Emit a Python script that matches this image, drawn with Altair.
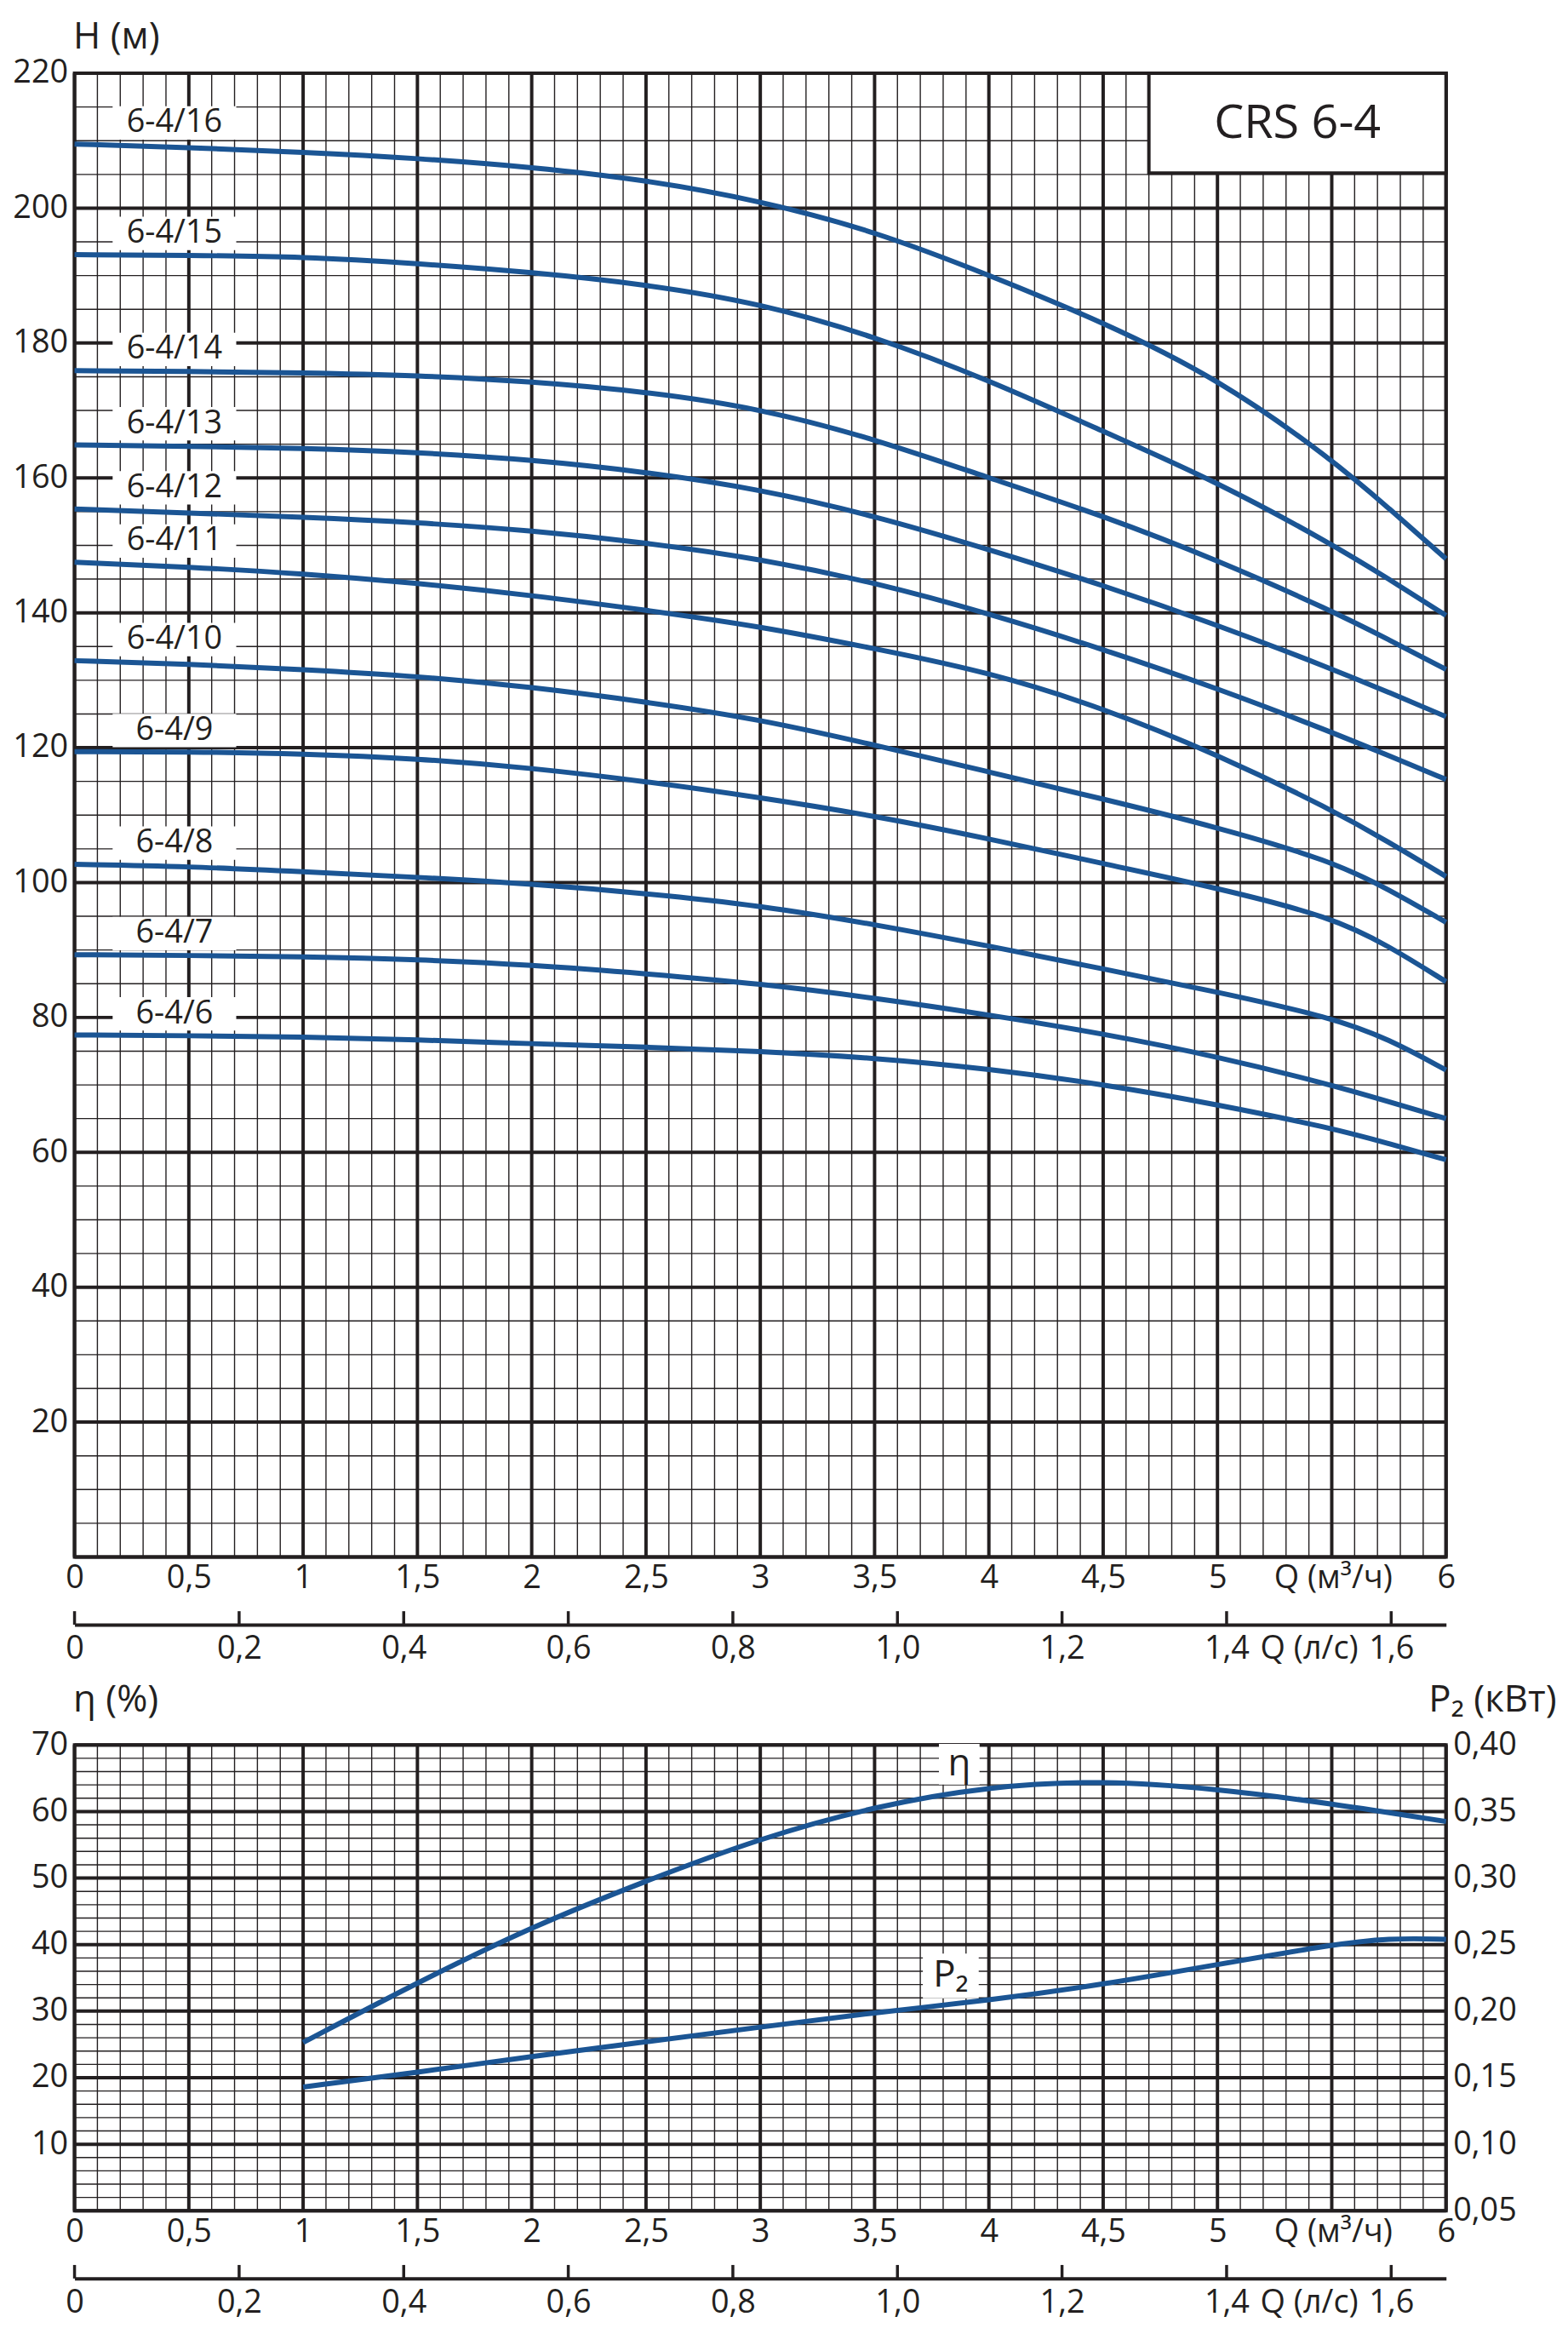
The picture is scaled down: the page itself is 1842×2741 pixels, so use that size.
import altair as alt
import pandas as pd

# ---------------- data ----------------
Q_M3H = [0, 0.5, 1, 1.5, 2, 2.5, 3, 3.5, 4, 4.5, 5, 5.5, 5.75, 6]

MODELS = ["6-4/16", "6-4/15", "6-4/14", "6-4/13", "6-4/12", "6-4/11",
          "6-4/10", "6-4/9", "6-4/8", "6-4/7", "6-4/6"]

H_6_4_16 = [209.5, 209.0, 208.3, 207.4, 206.1, 204.2, 201.1, 196.6, 190.1, 183.1, 174.8, 162.8, 155.5, 148.0]
H_6_4_15 = [193.1, 193.0, 192.8, 191.8, 190.5, 188.7, 185.9, 181.0, 174.5, 166.9, 159.4, 150.2, 145.0, 139.6]
H_6_4_14 = [175.9, 175.8, 175.6, 175.2, 174.3, 172.8, 170.3, 165.8, 160.0, 154.4, 147.8, 140.3, 136.0, 131.6]
H_6_4_13 = [164.9, 164.7, 164.4, 163.8, 162.7, 160.9, 158.3, 154.4, 149.4, 144.1, 138.2, 131.7, 128.2, 124.6]
H_6_4_12 = [155.4, 154.8, 154.2, 153.4, 152.2, 150.4, 148.0, 144.5, 139.9, 134.6, 128.8, 122.3, 118.8, 115.3]
H_6_4_11 = [147.5, 146.8, 145.8, 144.4, 142.6, 140.4, 138.0, 134.7, 131.2, 125.9, 119.0, 110.8, 106.0, 100.9]
H_6_4_10 = [132.9, 132.4, 131.6, 130.6, 129.0, 126.8, 124.2, 120.4, 116.4, 112.4, 108.2, 103.2, 99.0, 94.1]
H_6_4_9 = [119.4, 119.4, 119.1, 118.4, 117.0, 115.0, 112.6, 109.9, 106.5, 102.8, 99.2, 94.9, 90.6, 85.3]
H_6_4_8 = [102.7, 102.4, 101.6, 100.8, 99.8, 98.4, 96.6, 93.8, 90.6, 87.2, 83.8, 80.0, 76.8, 72.2]
H_6_4_7 = [89.3, 89.2, 89.0, 88.6, 87.8, 86.5, 85.0, 82.9, 80.4, 77.6, 74.2, 70.0, 67.5, 65.0]
H_6_4_6 = [77.4, 77.3, 77.1, 76.7, 76.1, 75.6, 75.0, 74.0, 72.4, 70.1, 67.1, 63.6, 61.3, 58.9]
H_SERIES = [H_6_4_16, H_6_4_15, H_6_4_14, H_6_4_13, H_6_4_12, H_6_4_11,
            H_6_4_10, H_6_4_9, H_6_4_8, H_6_4_7, H_6_4_6]

Q_ETA = [1, 1.5, 2, 2.5, 3, 3.5, 4, 4.5, 5, 5.5, 6]
ETA = [25.3, 34.3, 42.7, 49.6, 56.0, 60.8, 63.8, 64.7, 63.4, 61.2, 58.5]

Q_P2 = [1, 1.5, 2, 2.5, 3, 3.5, 4, 4.5, 5, 5.5, 5.75, 6]
P2 = [0.143, 0.154, 0.166, 0.177, 0.188, 0.199, 0.208, 0.220, 0.235, 0.250, 0.255, 0.254]

# axis ticks / grid values
Q_MAX = 6.0
LS_MAX = Q_MAX / 3.6
Q_LABELS = [0, 0.5, 1, 1.5, 2, 2.5, 3, 3.5, 4, 4.5, 5, 6]
Q_MAJOR = [0, 0.5, 1, 1.5, 2, 2.5, 3, 3.5, 4, 4.5, 5, 5.5, 6]
Q_MINOR = [round(i / 10, 1) for i in range(0, 61)]
H_LABELS = [20, 40, 60, 80, 100, 120, 140, 160, 180, 200, 220]
H_MAJOR = [0] + H_LABELS
H_MINOR = list(range(0, 221, 5))
ETA_LABELS = [10, 20, 30, 40, 50, 60, 70]
ETA_MAJOR = [0] + ETA_LABELS
ETA_MINOR = list(range(0, 71, 2))
P2_LABELS = [0.05, 0.10, 0.15, 0.20, 0.25, 0.30, 0.35, 0.40]
LS_TICKS = [0, 0.2, 0.4, 0.6, 0.8, 1.0, 1.2, 1.4, 1.6]

# title box "CRS 6-4" (in chart units)
CRS_TITLE = "CRS 6-4"
CRS_BOX = {"q0": 4.70, "q1": 6.0, "h0": 205.2, "h1": 220.0}

# ---------------- styling ----------------
W = 1620
H_TOP = 1752
H_BOT = 550
GAP = 222
INK = "#231f20"
BLUE = "#1b5594"
FONT = "Open Sans"
FS = 38
TFS = 44

curves = pd.DataFrame(
    [{"model": m, "Q": q, "H": h} for m, hs in zip(MODELS, H_SERIES) for q, h in zip(Q_M3H, hs)]
)
eta_df = pd.DataFrame({"Q": Q_ETA, "eta": ETA})
p2_df = pd.DataFrame({"Q": Q_P2, "P2": P2})

comma_g = "replace(format(datum.value, '~g'), '.', ',')"

ax_q = alt.Axis(values=Q_LABELS, labelExpr=comma_g, labelPadding=6,
                title="Q (м³/ч)", titleX=W * 5.505 / Q_MAX, titleY=6,
                titleBaseline="top", titleAlign="center", titleFontSize=FS)
sc_q = alt.Scale(domain=[0, Q_MAX], nice=False, zero=False)

ax_ls = alt.Axis(orient="bottom", offset=80, values=LS_TICKS,
                 labelExpr="datum.value == 0 ? '0' : replace(format(datum.value, '.1f'), '.', ',')",
                 labelPadding=10, domain=True, domainColor=INK, domainWidth=4,
                 title="Q (л/с)", titleX=W * 1.50 / LS_MAX, titleY=10,
                 titleBaseline="top", titleAlign="center", titleFontSize=FS)
sc_ls = alt.Scale(domain=[0, LS_MAX], nice=False, zero=False)

BOX_PATH = "M-1,-0.27L1,-0.27L1,0.27L-1,0.27Z"
INTERP = "basis"


def xq():
    return alt.X("Q:Q", scale=sc_q, axis=ax_q, title="Q (м³/ч)")


def grid_layers(y_field, minor_vals, major_vals, y_scale, y_axis):
    mv = alt.Chart(pd.DataFrame({"Q": Q_MINOR})).mark_rule(color=INK, strokeWidth=1.4).encode(x=xq())
    mh = alt.Chart(pd.DataFrame({y_field: minor_vals})).mark_rule(color=INK, strokeWidth=1.4).encode(
        y=alt.Y(f"{y_field}:Q", scale=y_scale, axis=y_axis))
    Mv = alt.Chart(pd.DataFrame({"Q": Q_MAJOR})).mark_rule(color=INK, strokeWidth=4).encode(x=xq())
    Mh = alt.Chart(pd.DataFrame({y_field: major_vals})).mark_rule(color=INK, strokeWidth=4).encode(
        y=alt.Y(f"{y_field}:Q", scale=y_scale, axis=y_axis))
    return [mv, mh, Mv, Mh]


def ls_ticks(h):
    return alt.Chart(pd.DataFrame({"Qls": LS_TICKS})).mark_rule(color=INK, strokeWidth=3.5).encode(
        x=alt.X("Qls:Q", scale=sc_ls, axis=ax_ls),
        y=alt.value(h + 64), y2=alt.value(h + 80))


# ---------------- top panel: H(Q) ----------------
sc_h = alt.Scale(domain=[0, 220], nice=False, zero=False)
ax_h = alt.Axis(values=H_LABELS, labelPadding=8, title="H (м)", titleAngle=0,
                titleAlign="left", titleBaseline="alphabetic", titleX=-2, titleY=-30,
                titleFontSize=TFS)


def yh():
    return alt.Y("H:Q", scale=sc_h, axis=ax_h)


curve_lines = alt.Chart(curves).mark_line(color=BLUE, strokeWidth=6, interpolate=INTERP).encode(
    x=xq(), y=yh(), detail="model:N")
lab_boxes = alt.Chart(curves).transform_filter(alt.datum.Q == 0).mark_point(
    shape=BOX_PATH, size=146 * 146, filled=True, color="white", opacity=1, strokeWidth=0,
    xOffset=118, yOffset=-25).encode(x=xq(), y=yh())
lab_text = alt.Chart(curves).transform_filter(alt.datum.Q == 0).mark_text(
    dx=118, dy=-25, font=FONT, fontSize=FS, color=INK, align="center", baseline="middle").encode(
    x=xq(), y=yh(), text="model:N")

crs_df = pd.DataFrame([{"Q": CRS_BOX["q0"], "Q2": CRS_BOX["q1"], "H": CRS_BOX["h0"], "H2": CRS_BOX["h1"],
                        "Qc": (CRS_BOX["q0"] + CRS_BOX["q1"]) / 2, "Hc": (CRS_BOX["h0"] + CRS_BOX["h1"]) / 2,
                        "t": CRS_TITLE}])
crs_rect = alt.Chart(crs_df).mark_rect(fill="white", stroke=INK, strokeWidth=4).encode(
    x=xq(), x2="Q2:Q", y=yh(), y2="H2:Q")
crs_text = alt.Chart(crs_df).mark_text(font=FONT, fontSize=56, color=INK, align="center",
                                       baseline="middle").encode(
    x=alt.X("Qc:Q", scale=sc_q, axis=ax_q), y=alt.Y("Hc:Q", scale=sc_h, axis=ax_h), text="t:N")

top_main = alt.layer(*grid_layers("H", H_MINOR, H_MAJOR, sc_h, ax_h),
                     curve_lines, lab_boxes, lab_text, crs_rect, crs_text)
top = alt.layer(top_main, ls_ticks(H_TOP)).resolve_scale(x="independent").properties(
    width=W, height=H_TOP)

# ---------------- bottom panel: eta(Q), P2(Q) ----------------
sc_eta = alt.Scale(domain=[0, 70], nice=False, zero=False)
ax_eta = alt.Axis(values=ETA_LABELS, labelPadding=8, title="η (%)", titleAngle=0,
                  titleAlign="left", titleBaseline="alphabetic", titleX=-2, titleY=-40,
                  titleFontSize=TFS)
sc_p2 = alt.Scale(domain=[0.05, 0.40], nice=False, zero=False)
ax_p2 = alt.Axis(orient="right", values=P2_LABELS,
                 labelExpr="replace(format(datum.value, '.2f'), '.', ',')", labelPadding=8,
                 title="P₂ (кВт)", titleAngle=0, titleAlign="right", titleBaseline="alphabetic",
                 titleX=130, titleY=-40, titleFontSize=TFS)

eta_line = alt.Chart(eta_df).mark_line(color=BLUE, strokeWidth=6, interpolate=INTERP).encode(
    x=xq(), y=alt.Y("eta:Q", scale=sc_eta, axis=ax_eta))
eta_box = alt.Chart(eta_df).transform_filter(alt.datum.Q == 4).mark_point(
    shape="M-1,-1L1,-1L1,1L-1,1Z", size=48 * 48, filled=True, color="white", opacity=1, strokeWidth=0,
    xOffset=-35, yOffset=-26).encode(x=xq(), y=alt.Y("eta:Q", scale=sc_eta, axis=ax_eta))
eta_text = alt.Chart(eta_df).transform_filter(alt.datum.Q == 4).mark_text(
    text="η", dx=-35, dy=-26, font=FONT, fontSize=TFS, color=INK, align="center", baseline="middle").encode(
    x=xq(), y=alt.Y("eta:Q", scale=sc_eta, axis=ax_eta))
eta_layer = alt.layer(*grid_layers("eta", ETA_MINOR, ETA_MAJOR, sc_eta, ax_eta), eta_line, eta_box, eta_text)

p2_line = alt.Chart(p2_df).mark_line(color=BLUE, strokeWidth=6, interpolate=INTERP).encode(
    x=xq(), y=alt.Y("P2:Q", scale=sc_p2, axis=ax_p2))
p2_box = alt.Chart(p2_df).transform_filter(alt.datum.Q == 4).mark_point(
    shape="M-1,-0.8L1,-0.8L1,0.8L-1,0.8Z", size=66 * 66, filled=True, color="white", opacity=1,
    strokeWidth=0, xOffset=-45, yOffset=-29).encode(x=xq(), y=alt.Y("P2:Q", scale=sc_p2, axis=ax_p2))
p2_text = alt.Chart(p2_df).transform_filter(alt.datum.Q == 4).mark_text(
    text="P₂", dx=-45, dy=-29, font=FONT, fontSize=TFS, color=INK, align="center", baseline="middle").encode(
    x=xq(), y=alt.Y("P2:Q", scale=sc_p2, axis=ax_p2))
p2_layer = alt.layer(p2_line, p2_box, p2_text)

bot_main = alt.layer(eta_layer, p2_layer).resolve_scale(y="independent")
bot = alt.layer(bot_main, ls_ticks(H_BOT)).resolve_scale(x="independent").properties(
    width=W, height=H_BOT)

chart = alt.vconcat(top, bot, spacing=GAP, bounds="flush").properties(
    padding={"left": 4, "top": 4, "right": 4, "bottom": 0}
).configure_view(stroke=INK, strokeWidth=4).configure_axis(
    labelFont=FONT, labelFontSize=FS, labelColor=INK, titleFont=FONT, titleColor=INK,
    titleFontWeight="normal", grid=False, ticks=False, domain=False, labelFlush=False,
    labelOverlap=False)

chart.save("out.html", embed_options={"renderer": "svg", "actions": False})
